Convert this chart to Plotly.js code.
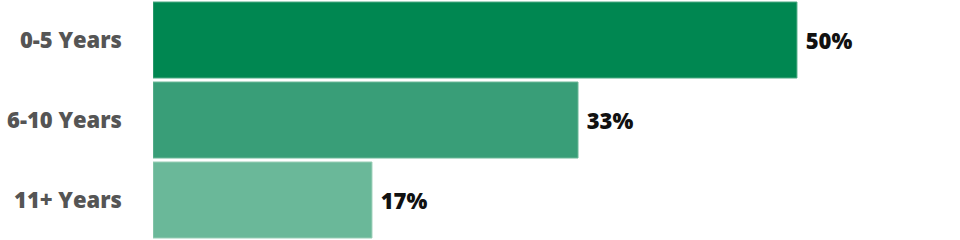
<!DOCTYPE html>
<html><head><meta charset="utf-8">
<script src="https://cdn.plot.ly/plotly-3.0.1.min.js"></script>
<style>html,body{margin:0;padding:0;background:#fff}#chart{width:960px;height:240px}</style>
</head><body><div id="chart"></div>
<script>
const categories = ["0-5 Years", "6-10 Years", "11+ Years"];
const values = [50, 33, 17];
const barColors = ["#008751", "#399E78", "#6AB899"];
const borderColors = ["#4DAA84", "#6DB898", "#97CDB5"];

const trace = {
  type: "bar",
  orientation: "h",
  y: categories,
  x: values,
  marker: { color: barColors, line: { color: borderColors, width: 1 } },
  text: values.map(v => " " + v + "%"),
  textposition: "outside",
  cliponaxis: false,
  textfont: { family: "'Open Sans', sans-serif", size: 22, color: "#111", weight: 800 },
  hoverinfo: "none"
};

const layout = {
  width: 960, height: 240,
  margin: { l: 153, r: 0, t: 0, b: 0, pad: 0 },
  paper_bgcolor: "#fff", plot_bgcolor: "#fff",
  bargap: 0.05,
  showlegend: false,
  xaxis: { range: [0, 62.66], visible: false, fixedrange: true },
  yaxis: {
    autorange: "reversed",
    showgrid: false, zeroline: false, showline: false, ticks: "",
    ticklabelstandoff: 30,
    tickfont: { family: "'Open Sans', sans-serif", size: 22, color: "#555", weight: 800 },
    fixedrange: true
  },
  font: { family: "'Open Sans', sans-serif" }
};

Plotly.newPlot("chart", [trace], layout, { displayModeBar: false, staticPlot: true });
</script>
</body></html>
